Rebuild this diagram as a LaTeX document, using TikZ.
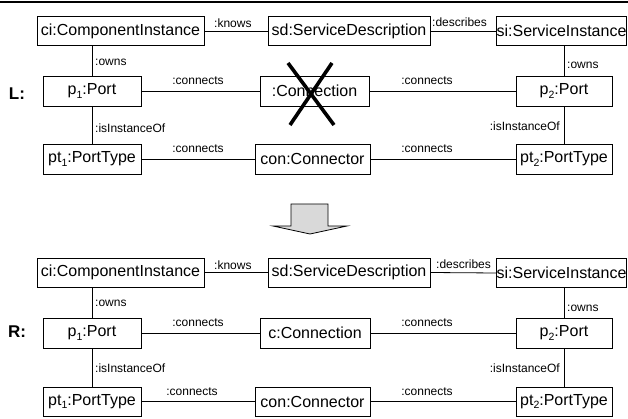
\documentclass[tikz,border=0pt]{standalone}
\usepackage{fontspec}
\setmainfont{Liberation Sans}
\newcommand\idx[1]{\raisebox{-0.45ex}{\fontsize{10.5}{10.5}\selectfont #1}}
\begin{document}
\begin{tikzpicture}[x=1pt,y=-1pt,
  obj/.style={draw, line width=0.8pt, inner sep=0pt, minimum height=#1,
    font=\fontsize{16}{16}\selectfont},
  obj/.default=29,
  link/.style={line width=0.8pt},
  lbl/.style={inner sep=0pt, font=\fontsize{12}{12}\selectfont},
  side/.style={inner sep=0pt, font=\bfseries\fontsize{17}{18}\selectfont},
  cross/.style={line width=3.6pt},
  bigarrow/.style={draw, line width=0.8pt, fill=black!15, line join=miter}]
\useasboundingbox (0,0) rectangle (628,419);
\draw[line width=1.2pt] (0,2) -- (628,2);

% ---------- left-hand side ----------
\node[side] (lL) at (17,94) {L:};
\node[obj, minimum width=167] (ciL) at (120.5,31) {ci:ComponentInstance};
\node[obj, minimum width=162] (sdL) at (349,31) {sd:ServiceDescription};
\node[obj, minimum width=129] (siL) at (561.5,31) {si:ServiceInstance};
\node[obj=30, minimum width=98] (p1L) at (92,91) {p\idx{1}:Port};
\node[obj=30, minimum width=109] (cnL) at (314.5,91) {:Connection};
\node[obj=30, minimum width=96] (p2L) at (564,91) {p\idx{2}:Port};
\node[obj=30, minimum width=98] (t1L) at (92,159) {pt\idx{1}:PortType};
\node[obj=30, minimum width=115] (coL) at (312.5,159) {con:Connector};
\node[obj=30, minimum width=96] (t2L) at (564,159) {pt\idx{2}:PortType};

\draw[link] (ciL.east) -- (sdL.west);
\draw[link] (sdL.east) -- (siL.west);
\draw[link] (p1L.north) -- (p1L.north |- ciL.south);
\draw[link] (p2L.north) -- (p2L.north |- siL.south);
\draw[link] (p1L.east) -- (cnL.west);
\draw[link] (cnL.east) -- (p2L.west);
\draw[link] (p1L.south) -- (t1L.north);
\draw[link] (p2L.south) -- (t2L.north);
\draw[link] (t1L.east) -- (coL.west);
\draw[link] (coL.east) -- (t2L.west);

\node[lbl, anchor=west] at (214,23) {:knows};
\node[lbl, anchor=west] at (432,22) {:describes};
\node[lbl, anchor=west] at (95,62) {:owns};
\node[lbl, anchor=west] at (567,65) {:owns};
\node[lbl] at (198,81) {:connects};
\node[lbl] at (427,81) {:connects};
\node[lbl, anchor=west] at (95,128) {:isInstanceOf};
\node[lbl, anchor=east] at (560,126) {:isInstanceOf};
\node[lbl] at (198,149) {:connects};
\node[lbl] at (427,149) {:connects};

% deleted connection
\draw[cross] ([shift={(-26.5,-28)}]cnL.center) -- ([shift={(19.5,34)}]cnL.center);
\draw[cross] ([shift={(17.5,-28)}]cnL.center) -- ([shift={(-24.5,34)}]cnL.center);

% ---------- rule arrow ----------
\draw[bigarrow] (291,226) -- (291,204) -- (328,204) -- (328,226) -- (347,226)
  -- (310,234) -- (273,226) -- cycle;

% ---------- right-hand side ----------
\node[side] (lR) at (17,332) {R:};
\node[obj, minimum width=167] (ciR) at (120.5,272.5) {ci:ComponentInstance};
\node[obj, minimum width=162] (sdR) at (349,272.5) {sd:ServiceDescription};
\node[obj, minimum width=129] (siR) at (561.5,273) {si:ServiceInstance};
\node[obj=30, minimum width=98] (p1R) at (92,333) {p\idx{1}:Port};
\node[obj=30, minimum width=110] (cnR) at (315,333) {c:Connection};
\node[obj=30, minimum width=96] (p2R) at (564,333) {p\idx{2}:Port};
\node[obj, minimum width=98] (t1R) at (92,401.5) {pt\idx{1}:PortType};
\node[obj, minimum width=115] (coR) at (312.5,401.5) {con:Connector};
\node[obj, minimum width=96] (t2R) at (564,401.5) {pt\idx{2}:PortType};

\draw[link] (ciR.east) -- (sdR.west);
\draw[link] (sdR.east) -- (siR.west);
\draw[link] (p1R.north) -- (p1R.north |- ciR.south);
\draw[link] (p2R.north) -- (p2R.north |- siR.south);
\draw[link] (p1R.east) -- (cnR.west);
\draw[link] (cnR.east) -- (p2R.west);
\draw[link] (p1R.south) -- (t1R.north);
\draw[link] (p2R.south) -- (t2R.north);
\draw[link] (t1R.east) -- (coR.west);
\draw[link] (coR.east) -- (t2R.west);

\node[lbl, anchor=west] at (214,265) {:knows};
\node[lbl, anchor=west] at (436,264) {:describes};
\node[lbl, anchor=west] at (95,303) {:owns};
\node[lbl, anchor=west] at (567,308) {:owns};
\node[lbl] at (198,323) {:connects};
\node[lbl] at (427,323) {:connects};
\node[lbl, anchor=west] at (95,368) {:isInstanceOf};
\node[lbl, anchor=east] at (560,368) {:isInstanceOf};
\node[lbl] at (192,392) {:connects};
\node[lbl] at (427,392) {:connects};
\end{tikzpicture}
\end{document}
